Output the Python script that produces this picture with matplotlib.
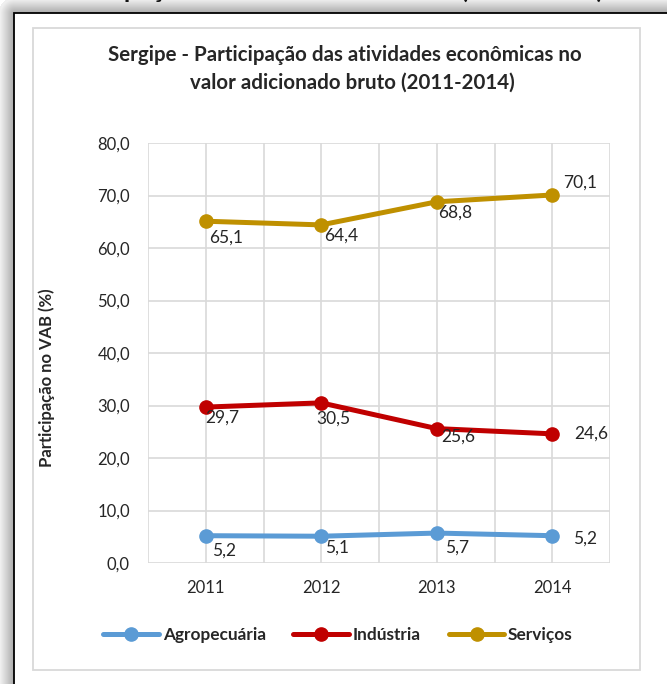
import numpy as np
import matplotlib
matplotlib.use("Agg")
import matplotlib.pyplot as plt
from matplotlib.patches import Rectangle

plt.rcParams["font.family"] = ["Lato", "DejaVu Sans"]

# ── data ─────────────────────────────────────────────────────────────────────
years = ["2011", "2012", "2013", "2014"]
agropecuaria = [5.2, 5.1, 5.7, 5.2]
industria = [29.7, 30.5, 25.6, 24.6]
servicos = [65.1, 64.4, 68.8, 70.1]

series_names = ["Agropecuária", "Indústria", "Serviços"]
series_values = [agropecuaria, industria, servicos]
series_colors = ["#5B9BD5", "#C00000", "#BF9000"]

# label offsets (pixels: right, down) from each point
label_offsets = [
    [(18, 15), (16, 11), (20, 15), (33, 3)],
    [(17, 11), (12, 16), (21, 8), (39, 0)],
    [(20, 16), (20, 11), (18, 11), (28, -12)],
]

W, H = 667, 684
fig = plt.figure(figsize=(W / 100, H / 100), dpi=100)

# ── background: shadowed frame + inner chart box ─────────────────────────────
bg = fig.add_axes([0, 0, 1, 1], zorder=0)
bg.set_xlim(0, W)
bg.set_ylim(H, 0)
bg.axis("off")

yy, xx = np.mgrid[0:H, 0:W]
dx = np.clip(14 - xx, 0, None)
dy = np.clip(13 - yy, 0, None)
d = np.hypot(dx, dy)
shade = np.where(d > 0, 0.66 + 0.28 * np.clip(d / 14, 0, 1), 1.0)
shade = np.where(d > 16, 1.0, shade)
bg.imshow(np.dstack([shade] * 3), extent=(0, W, H, 0), aspect="auto",
          interpolation="bilinear")

# heading of the page above the chart, cut off by the crop
bg.text(50, -2, "Participação das atividades no VAB (2011-2014)",
        fontsize=18.5, fontweight="bold", va="baseline", ha="left", color="#111111")

bg.add_patch(Rectangle((14, 13), 700, 700, facecolor="white",
                       edgecolor="black", linewidth=1.3))
bg.add_patch(Rectangle((33, 28), 607, 642, facecolor="white",
                       edgecolor="#D9D9D9", linewidth=1.3))

bg.text(345, 55, "Sergipe - Participação das atividades econômicas no",
        fontsize=14.8, fontweight="bold", ha="center", va="center", color="#262626")
bg.text(352, 83, "valor adicionado bruto (2011-2014)",
        fontsize=14.8, fontweight="bold", ha="center", va="center", color="#262626")

# ── main chart ───────────────────────────────────────────────────────────────
ax = fig.add_axes([148 / W, 1 - 563 / H, 462 / W, 420 / H], zorder=2)
ax.patch.set_alpha(0)
x = np.arange(len(years))

for name, vals, col, offs in zip(series_names, series_values, series_colors, label_offsets):
    ax.plot(x, vals, color=col, lw=3.6, marker="o", markersize=9.5,
            solid_capstyle="round", label=name, zorder=3)
    for xi, v, (ox, oy) in zip(x, vals, offs):
        ax.annotate(f"{v:.1f}".replace(".", ","), (xi, v),
                    xytext=(ox * 0.72, -oy * 0.72), textcoords="offset points",
                    ha="center", va="center", fontsize=12.5, color="#262626",
                    zorder=4)

ax.set_xlim(-0.5, len(years) - 0.5)
ax.set_ylim(0, 80)
ax.set_yticks(np.arange(0, 81, 10))
ax.set_yticklabels([f"{t:.1f}".replace(".", ",") for t in np.arange(0, 81, 10)])
ax.set_xticks(x)
ax.set_xticklabels(years)
ax.set_xticks(np.arange(-0.5, len(years), 1), minor=True)

ax.grid(True, which="major", color="#D9D9D9", lw=1.2)
ax.grid(True, which="minor", axis="x", color="#D9D9D9", lw=1.2)
ax.set_axisbelow(True)
for s in ax.spines.values():
    s.set_visible(False)
ax.tick_params(axis="both", which="both", length=0, labelsize=12, colors="#262626")
ax.tick_params(axis="y", pad=13)
ax.tick_params(axis="x", pad=12)

fig.text(47 / W, 1 - 378 / H, "Participação no VAB (%)", rotation=90,
         fontsize=12, fontweight="bold", ha="center", va="center", color="#262626",
         zorder=3)

leg = fig.legend(loc="center", bbox_to_anchor=(338 / W, 1 - 635 / H), ncol=3,
                 frameon=False, handlelength=3.25, handletextpad=0.2,
                 columnspacing=1.6, prop={"weight": "bold", "size": 12.4})
for t in leg.get_texts():
    t.set_color("#262626")

fig.savefig("out.png", dpi=100)
